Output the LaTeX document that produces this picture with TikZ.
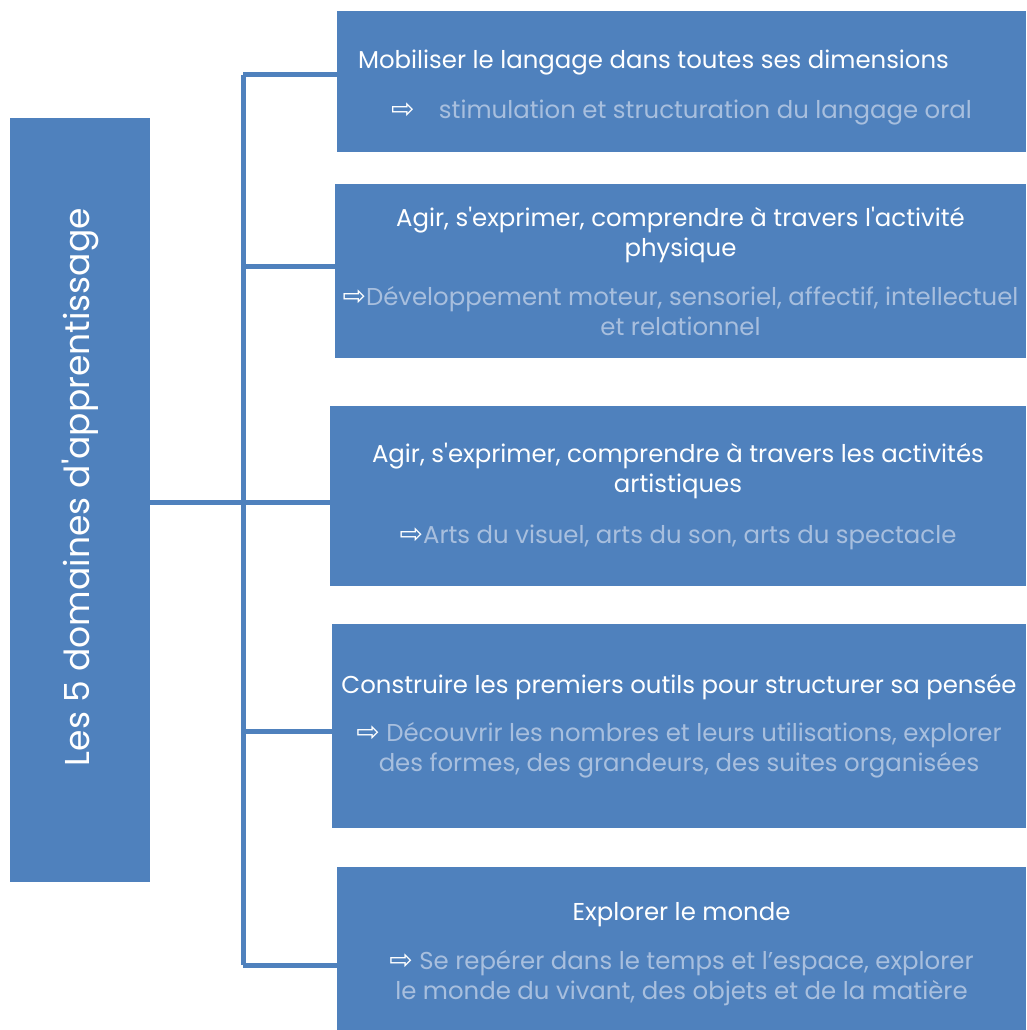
\documentclass[tikz,border=0pt]{standalone}
\usepackage{fontspec}
\setmainfont{Poppins}
\newfontfamily\arrowfont{DejaVu Sans}
\usetikzlibrary{positioning}
\definecolor{domblue}{RGB}{79,129,189}
\definecolor{subtext}{RGB}{168,191,222}
\newcommand{\flech}{{\color{white}\fontsize{28}{30}\arrowfont\char"21E8}}
\newcommand{\titre}[1]{{\color{white}#1}}
\newcommand{\sous}[1]{{\color{subtext}#1}}

\begin{document}
\begin{tikzpicture}[
    x=1pt, y=-1pt,
    dombox/.style={rectangle, fill=domblue, anchor=north west, inner sep=0pt, outer sep=0pt, align=center, font=\fontsize{24.4}{30}\selectfont},
    link/.style={draw=domblue, line width=5pt}
]
    \useasboundingbox (0,0) rectangle (1026,1030);

    % Bloc de gauche
    \node[dombox, minimum width=140pt, minimum height=764pt, font=\fontsize{34.5}{40}\selectfont, text=white] (root) at (10,118) {\rotatebox{90}{\hspace*{26pt}Les 5 domaines d\textquotesingle apprentissage}};

    % Les cinq domaines
    \node[dombox, minimum width=689pt, minimum height=141pt] (d1) at (337,11) {\rule{0pt}{30pt}\titre{Mobiliser le langage dans toutes ses dimensions}\hspace*{56pt}\\[20pt]
        \flech\quad\sous{stimulation et structuration du langage oral}};
    \node[dombox, minimum width=691pt, minimum height=174pt] (d2) at (335,184) {\titre{Agir, s\textquotesingle exprimer, comprendre à travers l\textquotesingle activité}\\\titre{physique}\\[19pt]
        \flech\sous{Développement moteur, sensoriel, affectif, intellectuel}\\\sous{et relationnel}};
    \node[dombox, minimum width=696pt, minimum height=180pt] (d3) at (330,406) {\titre{Agir, s\textquotesingle exprimer, comprendre à travers les activités}\\\titre{artistiques}\\[21pt]
        \flech\sous{Arts du visuel, arts du son, arts du spectacle}};
    \node[dombox, minimum width=694pt, minimum height=204pt] (d4) at (332,624) {\titre{Construire les premiers outils pour structurer sa pensée}\\[18pt]
        \flech\ \sous{Découvrir les nombres et leurs utilisations, explorer}\\\sous{des formes, des grandeurs, des suites organisées}};
    \node[dombox, minimum width=689pt, minimum height=163pt] (d5) at (337,867) {\rule{0pt}{30pt}\titre{Explorer le monde}\\[19pt]
        \flech\ \sous{Se repérer dans le temps et l’espace, explorer}\\\sous{le monde du vivant, des objets et de la matière}};

    % Arborescence
    \coordinate (hub) at (243,502);
    \draw[link] (root.east |- hub) -- (hub);
    \draw[link] ([yshift=6.5pt]d1.west -| hub) -- ([yshift=-16.5pt]d5.west -| hub);
    \foreach \d/\off in {d1/6.5, d2/5, d3/-6, d4/-5, d5/-16.5}
        \draw[link] ([yshift=\off pt]\d.west -| hub) -- ([yshift=\off pt]\d.west);
\end{tikzpicture}
\end{document}
